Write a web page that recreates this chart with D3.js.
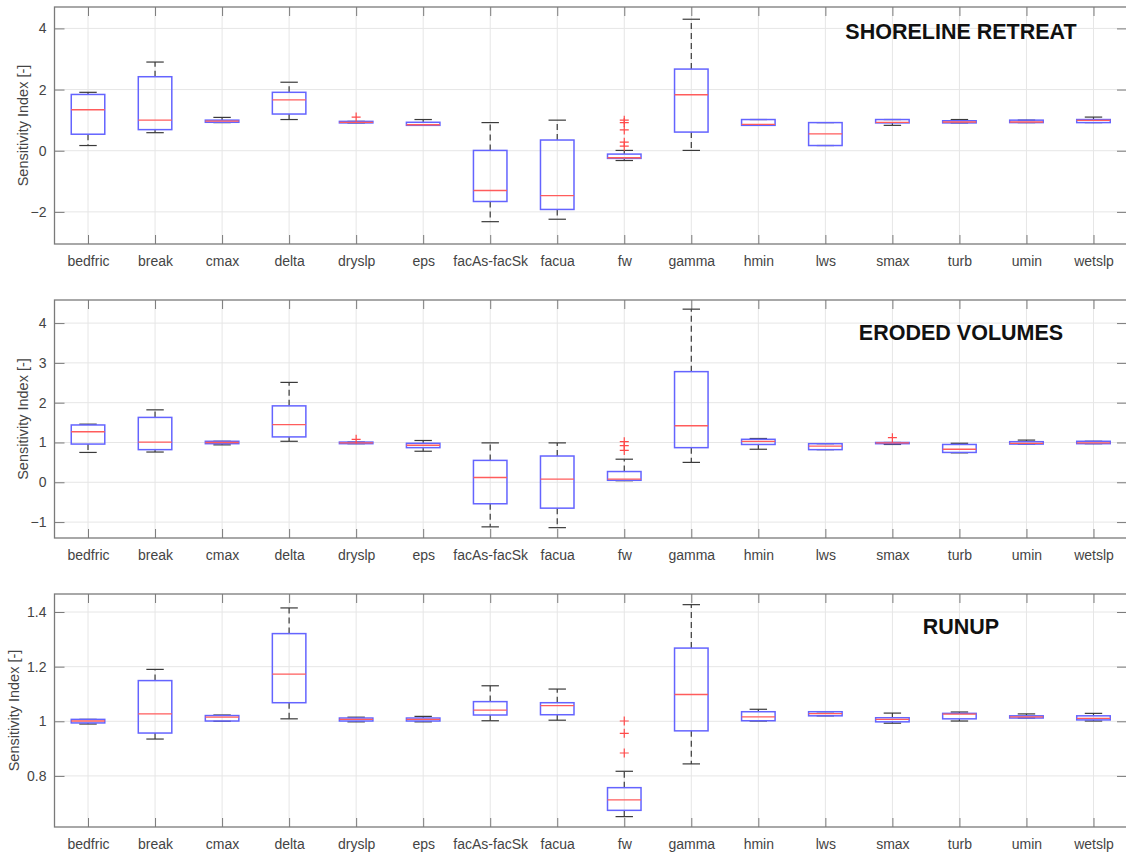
<!DOCTYPE html>
<html>
<head>
<meta charset="utf-8">
<script src="https://cdnjs.cloudflare.com/ajax/libs/d3/7.8.5/d3.min.js"></script>
<style>
  html, body { margin: 0; padding: 0; background: #fff; }
  svg { display: block; font-family: Arial, "Liberation Sans", Helvetica, sans-serif; }
</style>
</head>
<body>
<script>
// parameters (x categories)
const params = ['bedfric', 'break', 'cmax', 'delta', 'dryslp', 'eps', 'facAs-facSk', 'facua',
  'fw', 'gamma', 'hmin', 'lws', 'smax', 'turb', 'umin', 'wetslp'];

// box stats per parameter: [lower whisker, q1, median, q3, upper whisker]
const shorelineStats = [
  [0.17, 0.54, 1.34, 1.84, 1.91],
  [0.59, 0.69, 1.00, 2.42, 2.90],
  [0.92, 0.93, 0.97, 1.00, 1.09],
  [1.02, 1.20, 1.66, 1.91, 2.24],
  [0.91, 0.91, 0.93, 0.96, 0.96],
  [0.83, 0.83, 0.85, 0.93, 1.02],
  [-2.32, -1.66, -1.30, 0.01, 0.92],
  [-2.24, -1.92, -1.47, 0.35, 1.00],
  [-0.32, -0.25, -0.23, -0.11, 0.01],
  [0.01, 0.61, 1.83, 2.67, 4.30],
  [0.83, 0.83, 0.86, 1.02, 1.02],
  [0.17, 0.17, 0.55, 0.92, 0.92],
  [0.83, 0.91, 0.93, 1.02, 1.02],
  [0.91, 0.91, 0.94, 0.98, 1.02],
  [0.92, 0.92, 0.94, 1.00, 1.00],
  [0.92, 0.92, 0.99, 1.02, 1.10]
];
const shorelineOutliers = [[], [], [], [], [1.10], [], [], [], [1.00, 0.92, 0.68, 0.28, 0.15], [], [], [], [], [], [], []];

const erodedStats = [
  [0.75, 0.96, 1.27, 1.44, 1.46],
  [0.76, 0.82, 1.01, 1.63, 1.82],
  [0.94, 0.97, 1.00, 1.03, 1.03],
  [1.03, 1.14, 1.45, 1.92, 2.51],
  [0.97, 0.97, 0.99, 1.01, 1.01],
  [0.78, 0.87, 0.93, 0.98, 1.05],
  [-1.12, -0.54, 0.12, 0.55, 0.99],
  [-1.14, -0.65, 0.08, 0.66, 0.99],
  [0.04, 0.05, 0.08, 0.27, 0.58],
  [0.50, 0.87, 1.42, 2.78, 4.35],
  [0.83, 0.95, 1.03, 1.08, 1.10],
  [0.82, 0.82, 0.91, 0.97, 0.97],
  [0.95, 0.97, 0.99, 1.00, 1.00],
  [0.74, 0.75, 0.83, 0.95, 0.98],
  [0.96, 0.96, 0.98, 1.02, 1.06],
  [0.97, 0.97, 0.99, 1.03, 1.03]
];
const erodedOutliers = [[], [], [], [], [1.08], [], [], [], [1.02, 0.92, 0.80], [], [], [], [1.12], [], [], []];

const runupStats = [
  [0.990, 0.994, 1.001, 1.007, 1.007],
  [0.935, 0.957, 1.027, 1.149, 1.190],
  [1.000, 1.001, 1.015, 1.021, 1.023],
  [1.009, 1.068, 1.173, 1.321, 1.415],
  [0.998, 1.001, 1.007, 1.012, 1.015],
  [0.998, 1.001, 1.007, 1.012, 1.018],
  [1.002, 1.023, 1.041, 1.072, 1.130],
  [1.004, 1.024, 1.057, 1.068, 1.118],
  [0.651, 0.674, 0.712, 0.757, 0.817],
  [0.844, 0.965, 1.098, 1.268, 1.427],
  [1.001, 1.002, 1.016, 1.035, 1.044],
  [1.020, 1.020, 1.028, 1.035, 1.035],
  [0.993, 0.998, 1.007, 1.013, 1.030],
  [1.001, 1.009, 1.026, 1.029, 1.034],
  [1.012, 1.012, 1.016, 1.020, 1.027],
  [1.001, 1.005, 1.011, 1.020, 1.029]
];
const runupOutliers = [[], [], [], [], [], [], [], [], [1.001, 0.956, 0.884], [], [], [], [], [], [], []];

const panels = [
  { title: 'SHORELINE RETREAT', stats: shorelineStats, outliers: shorelineOutliers,
    ylim: [-3.05, 4.7], ticks: [-2, 0, 2, 4], top: 7, bottom: 244, titleDy: 32, ylabX: 23 },
  { title: 'ERODED VOLUMES', stats: erodedStats, outliers: erodedOutliers,
    ylim: [-1.4, 4.58], ticks: [-1, 0, 1, 2, 3, 4], top: 300, bottom: 538, titleDy: 40, ylabX: 23 },
  { title: 'RUNUP', stats: runupStats, outliers: runupOutliers,
    ylim: [0.613, 1.466], ticks: [0.8, 1, 1.2, 1.4], top: 594, bottom: 827, titleDy: 40, ylabX: 14 }
];

const W = 1126, H = 857;
const left = 54.5, right = 1127;

const svg = d3.select('body').append('svg')
  .attr('width', W).attr('height', H);

const x = d3.scaleLinear().domain([0.5, params.length + 0.5]).range([left, right]);
const step = x(2) - x(1);
const boxW = step * 0.5, capW = step * 0.26;

panels.forEach(p => {
  const y = d3.scaleLinear().domain(p.ylim).range([p.bottom, p.top]);
  const g = svg.append('g');

  // grid
  g.selectAll('.vgrid').data(params).enter().append('line')
    .attr('x1', (d, i) => x(i + 1)).attr('x2', (d, i) => x(i + 1))
    .attr('y1', p.top).attr('y2', p.bottom)
    .attr('stroke', '#e6e6e6').attr('stroke-width', 1);
  g.selectAll('.hgrid').data(p.ticks).enter().append('line')
    .attr('x1', left).attr('x2', right)
    .attr('y1', d => y(d)).attr('y2', d => y(d))
    .attr('stroke', '#e6e6e6').attr('stroke-width', 1);

  // axes via d3 axis (inside ticks)
  const xIdx = params.map((d, i) => i + 1);
  g.append('g').attr('transform', `translate(0,${p.bottom})`)
    .call(d3.axisBottom(x).tickValues(xIdx).tickSizeInner(-9).tickSizeOuter(0)
      .tickPadding(12).tickFormat(i => params[i - 1]))
    .call(a => a.select('.domain').remove())
    .call(a => a.selectAll('line').attr('stroke', '#7a7a7a'))
    .call(a => a.selectAll('text').attr('font-size', 14).attr('fill', '#444').attr('font-family', null));
  g.append('g').attr('transform', `translate(0,${p.top})`)
    .call(d3.axisTop(x).tickValues(xIdx).tickSizeInner(-9).tickSizeOuter(0).tickFormat(''))
    .call(a => a.select('.domain').remove())
    .call(a => a.selectAll('line').attr('stroke', '#7a7a7a'));
  g.append('g').attr('transform', `translate(${left},0)`)
    .call(d3.axisLeft(y).tickValues(p.ticks).tickSizeInner(-10).tickSizeOuter(0)
      .tickPadding(8).tickFormat(d3.format('')))
    .call(a => a.select('.domain').remove())
    .call(a => a.selectAll('line').attr('stroke', '#7a7a7a'))
    .call(a => a.selectAll('text').attr('font-size', 14).attr('fill', '#444').attr('font-family', null));
  g.append('g').attr('transform', `translate(${right},0)`)
    .call(d3.axisRight(y).tickValues(p.ticks).tickSizeInner(-10).tickSizeOuter(0).tickFormat(''))
    .call(a => a.select('.domain').remove())
    .call(a => a.selectAll('line').attr('stroke', '#7a7a7a'));

  g.append('rect')
    .attr('x', left).attr('y', p.top)
    .attr('width', right - left).attr('height', p.bottom - p.top)
    .attr('fill', 'none').attr('stroke', '#7a7a7a').attr('stroke-width', 1.3);

  // y label
  g.append('text')
    .attr('transform', `translate(${p.ylabX},${(p.top + p.bottom) / 2}) rotate(-90)`)
    .attr('text-anchor', 'middle').attr('dominant-baseline', 'central')
    .attr('font-size', 14.5).attr('fill', '#444')
    .text('Sensitivity Index [-]');

  // title
  g.append('text')
    .attr('x', 961).attr('y', p.top + p.titleDy)
    .attr('text-anchor', 'middle').attr('font-size', 21.5).attr('font-weight', 'bold')
    .attr('fill', '#111').text(p.title);

  // boxes
  const bx = g.selectAll('.bx').data(p.stats).enter().append('g');
  // dashed whiskers
  bx.append('line')
    .attr('x1', (d, i) => x(i + 1)).attr('x2', (d, i) => x(i + 1))
    .attr('y1', d => y(d[3])).attr('y2', d => y(d[4]))
    .attr('stroke', '#3a3a3a').attr('stroke-width', 1.2).attr('stroke-dasharray', '6,4');
  bx.append('line')
    .attr('x1', (d, i) => x(i + 1)).attr('x2', (d, i) => x(i + 1))
    .attr('y1', d => y(d[1])).attr('y2', d => y(d[0]))
    .attr('stroke', '#3a3a3a').attr('stroke-width', 1.2).attr('stroke-dasharray', '6,4');
  // caps
  [0, 4].forEach(k => {
    bx.append('line')
      .attr('x1', (d, i) => x(i + 1) - capW / 2).attr('x2', (d, i) => x(i + 1) + capW / 2)
      .attr('y1', d => y(d[k])).attr('y2', d => y(d[k]))
      .attr('stroke', '#3a3a3a').attr('stroke-width', 1.2);
  });
  bx.append('rect')
    .attr('x', (d, i) => x(i + 1) - boxW / 2).attr('width', boxW)
    .attr('y', d => y(d[3])).attr('height', d => Math.max(0.5, y(d[1]) - y(d[3])))
    .attr('fill', 'none').attr('stroke', '#6464ff').attr('stroke-width', 1.5);
  bx.append('line')
    .attr('x1', (d, i) => x(i + 1) - boxW / 2).attr('x2', (d, i) => x(i + 1) + boxW / 2)
    .attr('y1', d => y(d[2])).attr('y2', d => y(d[2]))
    .attr('stroke', '#ff5c5c').attr('stroke-width', 1.3);

  // outliers
  p.outliers.forEach((arr, i) => {
    arr.forEach(v => {
      g.append('path')
        .attr('d', `M${x(i + 1) - 4.5},${y(v)}h9M${x(i + 1)},${y(v) - 4.5}v9`)
        .attr('stroke', '#ff4a4a').attr('stroke-width', 1.2).attr('fill', 'none');
    });
  });
});
</script>
</body>
</html>
